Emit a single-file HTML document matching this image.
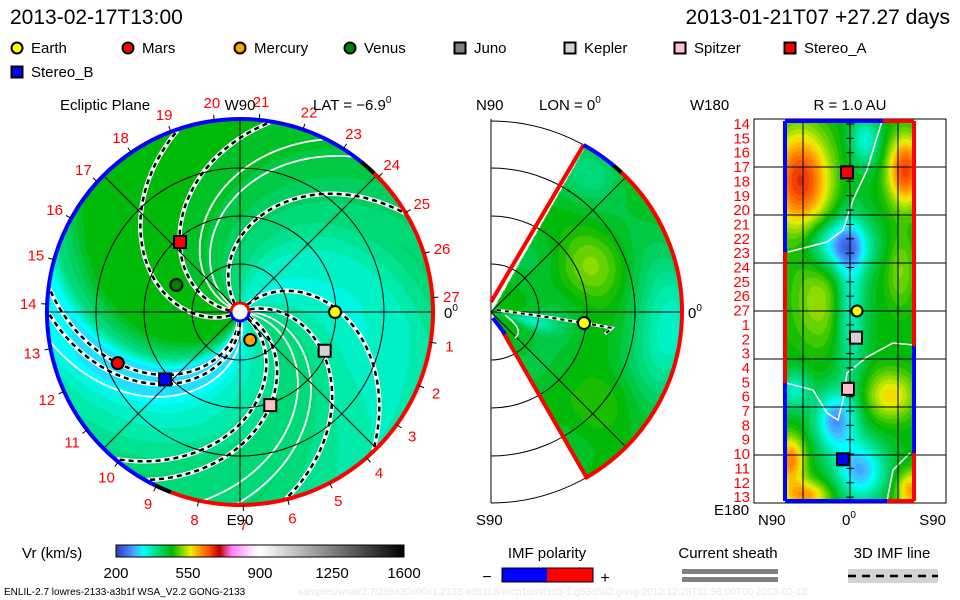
<!DOCTYPE html>
<html><head><meta charset="utf-8">
<style>
html,body{margin:0;padding:0;background:#fff;}
#wrap{position:relative;width:960px;height:600px;overflow:hidden;font-family:"Liberation Sans",sans-serif;}
canvas,svg{position:absolute;left:0;top:0;}
</style></head>
<body>
<div id="wrap">
<canvas id="cv" width="960" height="600"></canvas>
<svg id="sv" width="960" height="600" xmlns="http://www.w3.org/2000/svg" font-family="Liberation Sans, sans-serif">
 <text x="10" y="24" font-size="21">2013-02-17T13:00</text>
 <text x="950" y="24" font-size="21" text-anchor="end">2013-01-21T07 +27.27 days</text>
 <g id="legend"></g>
 <g id="left"></g>
 <g id="mid"></g>
 <g id="right"></g>
 <g id="bottom">
  <text x="22" y="558" font-size="15">Vr (km/s)</text>
  <rect x="116" y="545" width="288" height="12" fill="none" stroke="#000" stroke-width="1"/>
  <text x="547" y="558" font-size="15" text-anchor="middle">IMF polarity</text>
  <rect x="502" y="568" width="45" height="14" fill="#0000ff"/>
  <rect x="547" y="568" width="46" height="14" fill="#ff0000"/>
  <rect x="502" y="568" width="91" height="14" fill="none" stroke="#000"/>
  <text x="487" y="582" font-size="16" text-anchor="middle">−</text>
  <text x="605" y="583" font-size="16" text-anchor="middle">+</text>
  <text x="728" y="558" font-size="15" text-anchor="middle">Current sheath</text>
  <rect x="682" y="569" width="96" height="5" fill="#808080"/>
  <rect x="682" y="577" width="96" height="5" fill="#808080"/>
  <text x="892" y="558" font-size="15" text-anchor="middle">3D IMF line</text>
  <rect x="848" y="569" width="90" height="14" fill="#d3d3d3"/>
  <line x1="848" y1="576" x2="938" y2="576" stroke="#000" stroke-width="2.5" stroke-dasharray="8,6"/>
  <text x="4" y="595" font-size="10">ENLIL-2.7 lowres-2133-a3b1f WSA_V2.2 GONG-2133</text>
  <text x="298" y="595" font-size="10" fill="#e8e8e8">xamples/wsalr2.7/256x30x90x1.2133-a3b1f.8-mcp1umn1cd-1.g53q5d2.gong-2012:12:28T11:56:00T00   2013-02-12</text>
 </g>
</svg>
</div>
<script>
// ---- data ----
const bodyNames = ["Earth","Mars","Mercury","Venus","Juno","Kepler","Spitzer","Stereo_A","Stereo_B"];
const bodyColors = ["#ffff00","#ff0000","#ffa500","#008000","#808080","#d3d3d3","#ffc0cb","#ff0000","#0000ff"];
const bodyShapes = ["c","c","c","c","s","s","s","s","s"];
const eclNames = ["Earth","Mars","Mercury","Venus","Kepler","Spitzer","Stereo_A","Stereo_B"];
const eclR = [0.99,1.38,0.31,0.72,0.97,1.02,0.96,1.05];      // AU
const eclLon = [0,202.7,-70,157,-24.6,-72,130.6,222];        // deg
const sphNames = ["Earth","Kepler","Spitzer","Stereo_A","Stereo_B"];
const sphLat = [-6.6,-5.6,1.9,2.8,6.6];
const sphLon = [0,-25,-73,130,-139];
const cbTicks = [200,550,900,1250,1600];
const dayLabels = [];
for (let k=1;k<=27;k++) dayLabels.push(String(k));
const rightDays = ["14","15","16","17","18","19","20","21","22","23","24","25","26","27","1","2","3","4","5","6","7","8","9","10","11","12","13"];
const dashedPsi = [127,177,205,50,20,337,326,269,276];
const whitePsi = [150,160,5,285,355];

const NS="http://www.w3.org/2000/svg";
function el(tag,attrs,parent){const e=document.createElementNS(NS,tag);for(const k in attrs)e.setAttribute(k,attrs[k]);parent.appendChild(e);return e;}

// ---- colormap ----
const cmV=[200,260,300,330,380,420,470,520,560,600,650,700,760,850,900,1600];
const cmC=["#3c3cb4","#4080ff","#40c0ff","#00ffff","#00e8a0","#00d060","#00b800","#80d800","#f0f000","#ffa000","#ff5000","#c00000","#ff80ff","#ffe0ff","#ffffff","#000000"];
const cmRGB=cmC.map(h=>[parseInt(h.substr(1,2),16),parseInt(h.substr(3,2),16),parseInt(h.substr(5,2),16)]);
function cmap(v){
  if(v<=cmV[0])return cmRGB[0];
  for(let i=1;i<cmV.length;i++){if(v<=cmV[i]){const t=(v-cmV[i-1])/(cmV[i]-cmV[i-1]);const a=cmRGB[i-1],b=cmRGB[i];return [a[0]+(b[0]-a[0])*t,a[1]+(b[1]-a[1])*t,a[2]+(b[2]-a[2])*t];}}
  return cmRGB[cmRGB.length-1];
}
const q=v=>Math.round(v/15)*15;

const cv=document.getElementById('cv');const ctx=cv.getContext('2d');
const img=ctx.createImageData(960,600);const D=img.data;
function put(x,y,c){const i=(y*960+x)*4;D[i]=c[0];D[i+1]=c[1];D[i+2]=c[2];D[i+3]=255;}

// left ecliptic field
const psiS=[0,20,50,80,110,140,170,200,240,255,265,280,295,320,345,360];
const psiV=[410,380,350,355,400,430,455,465,460,400,310,310,350,380,410,410];
function psiVal(p){p=((p%360)+360)%360;for(let i=1;i<psiS.length;i++){if(p<=psiS[i]){const t=(p-psiS[i-1])/(psiS[i]-psiS[i-1]);return psiV[i-1]+(psiV[i]-psiV[i-1])*t;}}return psiV[0];}
const LCX=240,LCY=312,LR=193,K=0.5;
for(let y=LCY-LR;y<=LCY+LR;y++)for(let x=LCX-LR;x<=LCX+LR;x++){
  const dx=x-LCX,dy=LCY-y,r=Math.hypot(dx,dy);if(r>LR)continue;
  const ph=Math.atan2(dy,dx)*180/Math.PI;
  let v=psiVal(ph+K*r);
  if(v<400) v+=0.25*Math.max(0,r-120);
  put(x,y,cmap(q(v)));
}
// middle field
const MCX=491,MCY=312,MR=191;
function g(a,b){return Math.exp(-a*a-b*b);}
for(let y=MCY-MR;y<=MCY+MR;y++)for(let x=MCX;x<=MCX+MR;x++){
  const dx=x-MCX,dy=MCY-y,r=Math.hypot(dx,dy);if(r>MR)continue;
  const th=Math.atan2(dy,dx)*180/Math.PI;if(Math.abs(th)>60.5)continue;
  let v=450+60*g((th-25)/18,(r-110)/40)+50*g((th+40)/15,(r-150)/30)-100*g((th+5)/25,(r-185)/35)-90*g((th+12)/10,(r-40)/25)-50*g((th-55)/10,(r-175)/25)+12*Math.sin(r/14);
  put(x,y,cmap(q(v)));
}
// right field
const blobs=[[800,180,210,30,50],[905,170,200,18,35],[820,300,70,30,50],[890,395,110,25,25],[790,460,160,15,25],[805,495,140,25,15],[910,490,140,15,20],[865,140,-110,15,25],[840,245,-180,30,25],[850,300,-120,15,80],[835,420,-180,20,30],[860,470,-170,25,30],[795,390,-100,15,20],[900,270,60,15,40]];
for(let y=121;y<=501;y++)for(let x=785;x<=914;x++){
  let v=460;for(const b of blobs)v+=b[2]*g((x-b[0])/b[3],(y-b[1])/b[4]);
  put(x,y,cmap(q(v)));
}
// colorbar
for(let x=116;x<404;x++){const c=cmap(200+(x-116)/288*1400);for(let y=545;y<557;y++)put(x,y,c);}
for(let i=0;i<D.length;i+=4){if(D[i+3]===0){D[i]=255;D[i+1]=255;D[i+2]=255;D[i+3]=255;}}
ctx.putImageData(img,0,0);

// ---- legend ----
const lg=document.getElementById('legend');
const legX=[17,128,240,350,460,570,680,790,17];
const legY=[48,48,48,48,48,48,48,48,72];
function marker(parent,shape,cx,cy,color,size){
  if(shape==="c")return el('circle',{cx:cx,cy:cy,r:size/2,fill:color,stroke:'#000','stroke-width':2},parent);
  return el('rect',{x:cx-size/2,y:cy-size/2,width:size,height:size,fill:color,stroke:'#000','stroke-width':2},parent);
}
bodyNames.forEach((n,i)=>{
  const m=marker(lg,bodyShapes[i],legX[i],legY[i],bodyColors[i],11);
  
  
  const t=el('text',{x:legX[i]+14,y:legY[i]+5,'font-size':15},lg);t.textContent=n;
  
  
});
function colorOf(n){return bodyColors[bodyNames.indexOf(n)];}
function shapeOf(n){return bodyShapes[bodyNames.indexOf(n)];}

// ---- left panel ----
const L=document.getElementById('left');
function lp(r,phDeg){const a=phDeg*Math.PI/180;return [LCX+r*Math.cos(a),LCY-r*Math.sin(a)];}
function spiralPath(psi){let d="";for(let r=10;r<=LR;r+=2){const p=lp(r,psi-K*r);d+=(r===10?"M":"L")+p[0].toFixed(1)+","+p[1].toFixed(1);}return d;}
whitePsi.forEach(p=>{const e=el('path',{d:spiralPath(p),fill:'none',stroke:'#fff','stroke-width':1.8},L);
  
  });
dashedPsi.forEach(p=>{const d=spiralPath(p);
  const a=el('path',{d:d,fill:'none',stroke:'#fff','stroke-width':4.5},L);
  
  
  const b=el('path',{d:d,fill:'none',stroke:'#000','stroke-width':2.5,'stroke-dasharray':'5,4'},L);
  
  });
[48,96,144].forEach(r=>{const c=el('circle',{cx:LCX,cy:LCY,r:r,fill:'none',stroke:'#000','stroke-width':1},L);
  
  });
[0,45,90,135].forEach(a=>{const p1=lp(LR,a),p2=lp(LR,a+180);
  const ln=el('line',{x1:p1[0],y1:p1[1],x2:p2[0],y2:p2[1],stroke:'#000','stroke-width':1},L);
  
  });
function arc(r,a1,a2){const p1=lp(r,a1),p2=lp(r,a2);const large=(a2-a1)>180?1:0;return `M${p1[0]},${p1[1]} A${r},${r} 0 ${large} 0 ${p2[0]},${p2[1]}`;}
let e1=el('path',{d:arc(LR,51,249),fill:'none',stroke:'#0000ff','stroke-width':4},L);

let e2=el('path',{d:arc(LR,249,411),fill:'none',stroke:'#ff0000','stroke-width':4},L);

[[46,51],[244,249]].forEach(s=>{const e=el('path',{d:arc(LR,s[0],s[1]),fill:'none',stroke:'#000','stroke-width':4},L);
  });
let sA=el('path',{d:arc(9,0,180),fill:'none',stroke:'#ff0000','stroke-width':3},L);

let sB=el('path',{d:arc(9,180,360),fill:'none',stroke:'#0000ff','stroke-width':3},L);

let sC=el('circle',{cx:LCX,cy:LCY,r:7.5,fill:'#fff'},L);

dayLabels.forEach((lab,i)=>{const k=i+1;const ang=4.3+(27-k)*(360/27);
  const t1=lp(LR,ang),t2=lp(LR+6,ang);
  const tk=el('line',{x1:t1[0],y1:t1[1],x2:t2[0],y2:t2[1],stroke:'#000','stroke-width':1},L);
  
  const p=lp(212,ang);
  const t=el('text',{x:p[0],y:p[1]+6,'font-size':15,fill:'#ff0000','text-anchor':'middle'},L);t.textContent=lab;
  });
eclNames.forEach((n,i)=>{const p=lp(eclR[i]*96,eclLon[i]);
  const m=marker(L,shapeOf(n),p[0],p[1],colorOf(n),12);
  
  });
[["Ecliptic Plane",60,110,"start","ecliptic-title"],["W90",240,110,"middle","w90-label"],["E90",240,525,"middle","e90-label"]].forEach(a=>{
  const t=el('text',{x:a[1],y:a[2],'font-size':15,'text-anchor':a[3]},L);t.textContent=a[0];
  });
let lat=el('text',{x:313,y:110,'font-size':15},L);lat.innerHTML='LAT = −6.9<tspan dy="-7" font-size="10">0</tspan>';

let z0=el('text',{x:444,y:318,'font-size':15},L);z0.innerHTML='0<tspan dy="-7" font-size="10">0</tspan>';


// ---- middle panel ----
const M=document.getElementById('mid');
function mp(r,a){const t=a*Math.PI/180;return [MCX+r*Math.cos(t),MCY-r*Math.sin(t)];}
[48,96,144,191].forEach(r=>{const p1=mp(r,90),p2=mp(r,-90);
  const e=el('path',{d:`M${p1[0]},${p1[1]} A${r},${r} 0 0 1 ${p2[0]},${p2[1]}`,fill:'none',stroke:'#000','stroke-width':1},M);
  });
[45,0,-45].forEach(a=>{const p=mp(191,a);const e=el('line',{x1:MCX,y1:MCY,x2:p[0],y2:p[1],stroke:'#000','stroke-width':1},M);
  });
let vl=el('line',{x1:MCX,y1:119,x2:MCX,y2:503,stroke:'#000','stroke-width':1},M);

let cs=el('path',{d:"M497,310 L540,316 L584,323 L612,328 L605,334",fill:'none',stroke:'#fff','stroke-width':3},M);

let cs2=el('path',{d:"M497,310 L540,316 L584,323 L612,328 L605,334",fill:'none',stroke:'#000','stroke-width':2,'stroke-dasharray':'4,4'},M);

let ws=el('path',{d:"M505,315 Q525,330 515,338",fill:'none',stroke:'#fff','stroke-width':1.5},M);

const pT=mp(191,61),pB=mp(191,-60),pBl=mp(191,50);
let wr=el('path',{d:`M${MCX},${MCY-10} L${pT[0]},${pT[1]} M${pBl[0]},${pBl[1]} A191,191 0 0 1 ${pB[0]},${pB[1]} L${MCX+12},${MCY+20}`,fill:'none',stroke:'#ff0000','stroke-width':4},M);

let wb=el('path',{d:`M${pT[0]},${pT[1]} A191,191 0 0 1 ${pBl[0]},${pBl[1]} M${MCX+2},${MCY+6} L${MCX+14},${MCY+22}`,fill:'none',stroke:'#0000ff','stroke-width':4},M);

const mk1=mp(191,50),mk2=mp(191,47);
let wk=el('line',{x1:mk1[0],y1:mk1[1],x2:mk2[0],y2:mk2[1],stroke:'#000','stroke-width':4},M);

let me=marker(M,'c',584,323,'#ffff00',12);

[["N90",476,110,"n90-label"],["S90",476,525,"s90-label"]].forEach(a=>{const t=el('text',{x:a[1],y:a[2],'font-size':15},M);t.textContent=a[0];
  });
let lon=el('text',{x:539,y:110,'font-size':15},M);lon.innerHTML='LON = 0<tspan dy="-7" font-size="10">0</tspan>';

let mz=el('text',{x:688,y:318,'font-size':15},M);mz.innerHTML='0<tspan dy="-7" font-size="10">0</tspan>';


// ---- right panel ----
const R=document.getElementById('right');
const rx=latv=>850-latv*192/180, ry=lonv=>311-lonv*384/360;
[[ "M788,252 L827,242 L843,230 L853,200 L867,170 L882,121"],["M786,383 L813,390 L827,413 L838,420 L843,400 L847,373 L867,357 L893,343 L914,345"],["M887,501 L893,470 L910,453"]].forEach(d=>{
  const e=el('path',{d:d[0],fill:'none',stroke:'#fff','stroke-width':1.5},R);
  });
[167,215,263,311,359,407,455].forEach(y=>{const e=el('line',{x1:754,y1:y,x2:946,y2:y,stroke:'#000','stroke-width':1},R);
  });
[803,850,898].forEach(x=>{const e=el('line',{x1:x,y1:119,x2:x,y2:503,stroke:'#000','stroke-width':1},R);
  });
for(let i=0;i<27;i++){const y=124+i*14.35;const e=el('line',{x1:846,y1:y,x2:854,y2:y,stroke:'#000','stroke-width':1},R);
  }
let bx=el('rect',{x:754,y:119,width:192,height:384,fill:'none',stroke:'#000','stroke-width':1},R);

[["#0000ff","M785,121 L785,252"],["#ff0000","M785,252 L785,383"],["#0000ff","M785,383 L785,501"],["#ff0000","M914,121 L914,346"],["#0000ff","M914,346 L914,453"],["#ff0000","M914,453 L914,501"],["#0000ff","M785,121 L883,121"],["#ff0000","M883,121 L914,121"],["#0000ff","M785,501 L887,501"],["#ff0000","M887,501 L914,501"]].forEach(s=>{
  const e=el('path',{d:s[1],fill:'none',stroke:s[0],'stroke-width':4},R);
  });
sphNames.forEach((n,i)=>{const m=marker(R,shapeOf(n),rx(sphLat[i]),ry(sphLon[i]),colorOf(n),shapeOf(n)==='c'?11:12);
  });
rightDays.forEach((d,i)=>{const t=el('text',{x:750,y:129+i*14.35,'font-size':15,fill:'#ff0000','text-anchor':'end'},R);t.textContent=d;
  });
[["W180",690,110,"start","w180-label"],["R = 1.0 AU",850,110,"middle","radius-label"],["E180",714,515,"start","e180-label"],["N90",758,525,"start","sphere-n90-label"],["S90",946,525,"end","sphere-s90-label"]].forEach(a=>{
  const t=el('text',{x:a[1],y:a[2],'font-size':15,'text-anchor':a[3]},R);t.textContent=a[0];
  });
let rz=el('text',{x:842,y:525,'font-size':15},R);rz.innerHTML='0<tspan dy="-7" font-size="10">0</tspan>';


// ---- colorbar ticks ----
const B=document.getElementById('bottom');
cbTicks.forEach(v=>{const x=116+(v-200)/1400*288;
  const t=el('text',{x:x,y:578,'font-size':15,'text-anchor':'middle'},B);t.textContent=String(v);
  });
</script>
</body></html>
